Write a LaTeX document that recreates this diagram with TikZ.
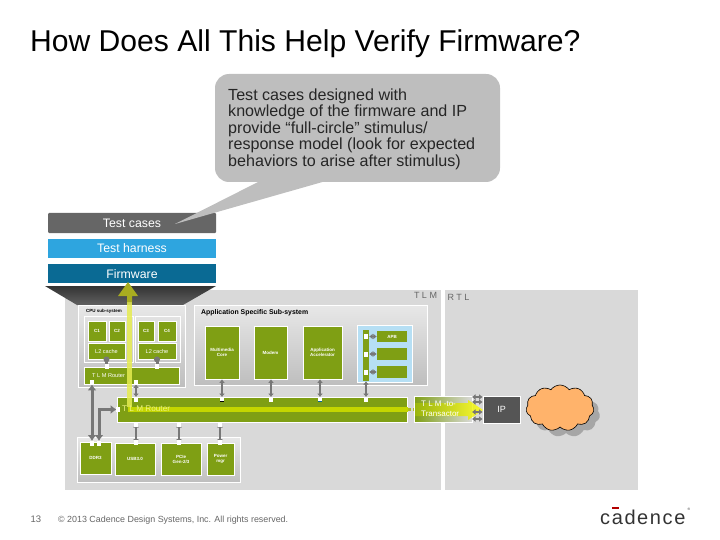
\documentclass[tikz,border=0pt]{standalone}
\usepackage{fontspec}
\setmainfont{Liberation Sans}
\usetikzlibrary{calc,shapes.symbols,arrows.meta,shadows}

\definecolor{panelgray}{HTML}{D9D9D9}
\definecolor{subgray}{HTML}{E8E8E8}
\definecolor{blockgreen}{HTML}{7F9F14}
\definecolor{stripegreen}{HTML}{C4D600}
\definecolor{arrowyellow}{HTML}{E6EC50}
\definecolor{headolive}{HTML}{A8AC20}
\definecolor{linkgray}{HTML}{777777}
\definecolor{calloutgray}{HTML}{BEBEBE}
\definecolor{casegray}{HTML}{666666}
\definecolor{harnessblue}{HTML}{2EA5DF}
\definecolor{firmblue}{HTML}{0A6A94}
\definecolor{iplate}{HTML}{555555}
\definecolor{cloudorange}{HTML}{FFB36B}
\definecolor{textgray}{HTML}{666666}

\tikzset{
  barnode/.style={anchor=center, text=white, font=\fontsize{12.3}{12}\selectfont},
  subbox/.style={draw=white, line width=0.8pt, top color=subgray, bottom color=panelgray!70!gray},
  block/.style={draw=white, line width=0.8pt, fill=blockgreen},
  tiny/.style={text=white, font=\bfseries\fontsize{4.5}{5}\selectfont, align=center},
  small/.style={text=white, font=\fontsize{5.6}{6}\selectfont},
  link/.style={linkgray, line width=2pt, {Latex[length=3.5pt,width=6pt]}-{Latex[length=3.5pt,width=6pt]}},
  thicklink/.style={linkgray, line width=3pt, {Latex[length=6pt,width=9pt]}-{Latex[length=6pt,width=9pt]}},
  port/.style={fill=white, minimum width=4pt, minimum height=5pt, inner sep=0pt}
}

\begin{document}
\begin{tikzpicture}[x=1pt,y=-1pt]
    \useasboundingbox (0,0) rectangle (720,540);

    % Title
    \node[anchor=west, inner sep=0pt, font=\fontsize{30.1}{30}\selectfont] (title) at (30,43.5) {How Does All This Help Verify Firmware?};

    % Background panels
    \fill[panelgray] (65,290) rectangle (441,490);
    \fill[panelgray] (445,290) rectangle (638,490);
    \node[text=textgray, font=\fontsize{9}{10}\selectfont] (tlmlabel) at (425.5,295) {T L M};
    \node[text=textgray, font=\fontsize{9}{10}\selectfont] (rtllabel) at (458.5,297) {R T L};

    % Stack of bars
    \fill[casegray, rounded corners=1pt] (48,213) rectangle (216,233);
    \fill[harnessblue] (48,239) rectangle (216,258);
    \fill[firmblue] (48,264) rectangle (216,283);
    \shade[top color=black!80, bottom color=black!62] (45,286) -- (216,286) -- (183,305) -- (77,305) -- cycle;

    % Callout
    \fill[calloutgray, rounded corners=14pt] (215,74) rectangle (500,182);
    \fill[calloutgray] (175,224) -- (260,181) -- (326,181) -- cycle;
    \node[anchor=north west, align=left, font=\fontsize{16.1}{16.5}\selectfont, inner sep=0pt, text=black!85] (calloutnote) at (228,88.5)
      {Test cases designed with\\knowledge of the firmware and IP\\provide “full-circle” stimulus/\\response model (look for expected\\behaviors to arise after stimulus)};

    \node[barnode] (cases) at (132,223) {Test cases};
    \node[barnode] (harness) at (132,248) {Test harness};
    \node[barnode] (firmware) at (132,274) {Firmware};

    % CPU sub-system
    \draw[subbox] (78,305) rectangle (185,387);
    \node[anchor=west, font=\bfseries\fontsize{4.5}{5}\selectfont, inner sep=0pt] (cpulabel) at (86,311) {CPU sub-system};
    \draw[white, line width=0.8pt] (84,316) rectangle (133,362);
    \draw[white, line width=0.8pt] (135,316) rectangle (180,362);
    \node[block, tiny, minimum width=18pt, minimum height=20pt, inner sep=0pt] (cone) at (97,331) {C1};
    \node[block, tiny, minimum width=16pt, minimum height=20pt, inner sep=0pt] (ctwo) at (117,331) {C2};
    \node[block, tiny, minimum width=16pt, minimum height=20pt, inner sep=0pt] (cthree) at (146,331) {C3};
    \node[block, tiny, minimum width=18pt, minimum height=20pt, inner sep=0pt] (cfour) at (167,331) {C4};
    \node[block, small, minimum width=37pt, minimum height=16pt, inner sep=0pt] (cacheL) at (106.5,351) {L2 cache};
    \node[block, small, minimum width=38pt, minimum height=16pt, inner sep=0pt] (cacheR) at (157,351) {L2 cache};
    \node[block, minimum width=95pt, minimum height=17pt, inner sep=0pt] (routerS) at (131.5,375.5) {};
    \node[anchor=west, small, inner sep=0pt] (routerSlabel) at (92,376) {T L M Router};

    % Application sub-system
    \draw[subbox] (194,305) rectangle (427,385);
    \node[anchor=west, font=\bfseries\fontsize{6.9}{7}\selectfont, inner sep=0pt] (applabel) at (201,312.5) {Application Specific Sub-system};
    \node[block, tiny, minimum width=34pt, minimum height=53pt, inner sep=0pt] (media) at (222,352.5) {Multimedia\\Core};
    \node[block, tiny, minimum width=33pt, minimum height=53pt, inner sep=0pt] (modem) at (270.5,352.5) {Modem};
    \node[block, tiny, minimum width=39pt, minimum height=53pt, inner sep=0pt] (accel) at (322.5,352.5) {Application\\Accelerator};
    \draw[white, line width=0.8pt, fill=harnessblue!35] (357,325) rectangle (412,382);
    \node[fill=blockgreen, minimum width=6pt, minimum height=51pt, inner sep=0pt] (apbbus) at (366,355.5) {};
    \node[fill=blockgreen, tiny, minimum width=30pt, minimum height=11pt, inner sep=0pt] (apb) at (392,336.5) {APB};
    \node[fill=blockgreen, minimum width=30pt, minimum height=12pt, inner sep=0pt] (apbtwo) at (392,354) {};
    \node[fill=blockgreen, minimum width=30pt, minimum height=12pt, inner sep=0pt] (apbthree) at (392,372) {};
    \foreach \nd in {apb,apbtwo,apbthree} {
      \draw[link, line width=1.5pt] (\nd.west -| apbbus.east) -- (\nd.west);
      \node[port] at (\nd.west -| apbbus) {};
    }

    % Main router with the stripe
    \node[block, minimum width=290pt, minimum height=25pt, inner sep=0pt] (router) at (262,409.5) {};
    \fill[stripegreen] (128,407) rectangle (408,412);
    \draw[stripegreen!70!gray, dotted, line width=3pt] (408,409.5) -- (414,409.5);

    % Memory and peripheral blocks
    \draw[subbox] (77,437) rectangle (240,482);
    \node[block, tiny, minimum width=31pt, minimum height=32pt, inner sep=0pt] (ddr) at (95.5,458) {DDR3};
    \node[block, tiny, minimum width=40pt, minimum height=32pt, inner sep=0pt] (usb) at (135,459) {USB3.0};
    \node[block, tiny, minimum width=40pt, minimum height=32pt, inner sep=0pt] (pcie) at (181,459) {PCIe\\Gen-2/3};
    \node[block, tiny, minimum width=27pt, minimum height=32pt, inner sep=0pt] (power) at (220.5,459) {Power\\mgr};

    % Connectors
    \coordinate (ddrA) at (92,441);
    \coordinate (ddrB) at (99,441);
    \draw[thicklink] (ddrA) -- (ddrA |- routerS.south);
    \draw[thicklink] (ddrB) -- (ddrB |- router.west) -- (router.west);
    \foreach \nd/\xx in {usb/136,pcie/179,power/220} {
      \draw[link] (\xx,424) -- (\nd.north -| \xx,0);
      \node[port] at (\xx,424) {};
      \node[port] at (\nd.north -| \xx,0) {};
    }
    \foreach \nd/\xx in {media/222,modem/271,accel/320,apbbus/366} {
      \draw[link] (\nd.south -| \xx,0) -- (\xx,397);
      \node[port] (port\nd) at (\xx,399) {};
    }
    \fill[black] (portmedia.south west) rectangle ++(4,-1.2);
    \fill[firmblue] (portaccel.south west) rectangle ++(4,-1.2);
    \draw[link, line width=2.5pt] (routerS.south -| 136,0) -- (136,397);
    \node[port] (portcpu) at (136,399) {};
    \node[port] at (136,382) {};
    \node[port] at (92,382) {};
    \node[port] at (118,409) {};
    \node[port] at (92,443) {};
    \node[port] at (99,443) {};
    \foreach \nd in {cacheL,cacheR} {
      \draw[link, line width=3pt, -] (\nd.south) -- (\nd.south |- routerS.north);
      \fill[linkgray] (\nd.south) circle (3pt);
      \node[port] at (\nd.south |- routerS.north) {};
    }

    % Yellow arrow going up to the firmware
    \fill[arrowyellow, opacity=0.85] (127,407) rectangle (132,302);
    \fill[headolive] (128,282) -- (138,296) -- (132,296) -- (132,302) -- (127,302) -- (127,296) -- (118,296) -- cycle;
    \node[anchor=west, text=white!30!arrowyellow, font=\fontsize{8.2}{9}\selectfont, inner sep=0pt] (routerlabel) at (122,408.5) {T L M Router};

    % Transactor and IP
    \shade[left color=blockgreen, middle color=blockgreen!45!gray, right color=gray!30, draw=white, line width=0.8pt] (414,396) rectangle (472,422);
    \shade[left color=blockgreen!50!stripegreen, middle color=gray!50!yellow, right color=yellow, opacity=0.8] (415,403) -- (468,403) -- (468,400) -- (483,410) -- (468,420) -- (468,416) -- (415,416) -- cycle;
    \node[anchor=west, align=left, text=white, font=\fontsize{8}{9.5}\selectfont, inner sep=0pt] (transactor) at (421,409) {T L M -to-\\Transactor};
    \node[draw=white, line width=0.8pt, fill=iplate, text=white, font=\fontsize{9}{9}\selectfont, minimum width=37pt, minimum height=27pt, inner sep=0pt] (ip) at (501.5,409.5) {IP};
    \foreach \py in {397,402,412,419} {
      \draw[link, line width=1.5pt] (472,\py) -- (ip.west |- 0,\py);
    }
    \node[cloud, cloud puffs=11, cloud puff arc=110, aspect=1.6, draw=black, fill=cloudorange, line width=0.6pt, minimum width=68pt, minimum height=46pt, inner sep=0pt, drop shadow={shadow xshift=6pt, shadow yshift=-6pt, fill=gray!70, opacity=1}] (ipcloud) at (560,408) {};

    % Footer
    \node[text=textgray, font=\fontsize{9.5}{10}\selectfont] (pagenum) at (36,519) {13};
    \node[anchor=west, text=textgray, font=\fontsize{8.9}{9}\selectfont, inner sep=0pt] (copyright) at (58,520) {© 2013 Cadence Design Systems, Inc. All rights reserved.};

    % Logo
    \node[anchor=base west, inner sep=0pt, font=\fontsize{20}{20}\selectfont, text=black!80] (logo) at (600,524) {c\kern1.6pt a\kern1.6pt d\kern1.6pt e\kern1.6pt n\kern1.6pt c\kern1.6pt e};
    \fill[red!70!black] (612,506.5) rectangle (619,508.5);
    \node[font=\fontsize{3.5}{4}\selectfont, text=black!80, inner sep=0pt] (logoreg) at (689,509) {®};

\end{tikzpicture}
\end{document}
